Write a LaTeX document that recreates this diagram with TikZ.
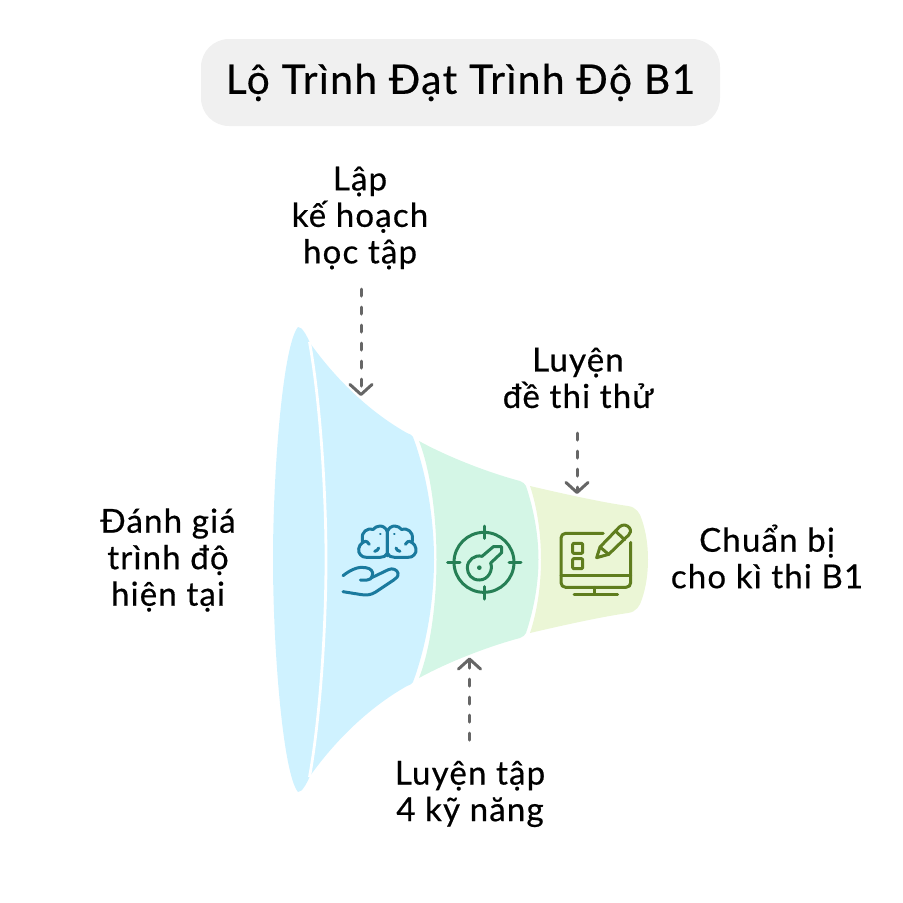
\documentclass[tikz,border=0pt]{standalone}
\usepackage{fontspec}
\setmainfont[LetterSpace=3.6,RawFeature={embolden=0.5}]{Lato}
\usetikzlibrary{arrows.meta}
\definecolor{bluefill}{HTML}{CFF2FF}
\definecolor{greenfill}{HTML}{D4F6E6}
\definecolor{yellowfill}{HTML}{EBF6D6}
\definecolor{pillfill}{HTML}{F0F0F0}
\definecolor{arrowgray}{HTML}{666666}
\definecolor{brainc}{HTML}{1A7A9E}
\definecolor{targetc}{HTML}{267F55}
\definecolor{monitorc}{HTML}{5F7D1E}
\tikzset{
  lbl/.style={align=center,font=\fontsize{33}{36.5}\selectfont,text=black,inner sep=0pt},
  flow/.style={draw=arrowgray,line width=3pt,line cap=round,dash pattern=on 7pt off 11pt,
    -{Straight Barb[length=10pt,width=22pt,line width=3pt,round]}},
  icon/.style={line width=3pt,line cap=round,line join=round,fill=none},
}
\begin{document}
\begin{tikzpicture}[x=1pt,y=-1pt]
\useasboundingbox (0,0) rectangle (903,903);
% title
\node[fill=pillfill,rounded corners=28pt,minimum width=519pt,minimum height=87pt,inner sep=0pt,
  font=\fontsize{40.7}{44}\selectfont] (title) at (460.5,82.5) {Lộ Trình Đạt Trình Độ B1};
% funnel
\fill[yellowfill] (530,486) .. controls (560,493) and (600,502) .. (628,506)
  .. controls (636,507) and (640,513) .. (642,520) .. controls (646,532) and (648,545) .. (648,559.5)
  .. controls (648,574) and (646,587) .. (642,599) .. controls (640,606) and (636,612) .. (628,613)
  .. controls (600,617) and (560,626) .. (530,633)
  .. controls (537,612) and (541,586) .. (541,559.5) .. controls (541,533) and (537,507) .. (530,486) -- cycle;
\fill[greenfill] (419,441) .. controls (450,458) and (490,473) .. (520,481)
  .. controls (523,482) and (525,484) .. (526,486) .. controls (533,507) and (538.5,533) .. (538.5,559.5)
  .. controls (538.5,586) and (533,612) .. (526,633) .. controls (525,635) and (523,637) .. (520,638)
  .. controls (490,646) and (450,661) .. (419,678)
  .. controls (430,650) and (436.5,605) .. (436.5,559.5)
  .. controls (436.5,514) and (430,469) .. (419,441) -- cycle;
\fill[bluefill] (298,327) .. controls (283,345) and (273,470) .. (273,559.5)
  .. controls (273,649) and (283,774) .. (298,792)
  .. controls (302,792) and (306,785) .. (310,776)
  .. controls (340,734) and (375,704) .. (407,686)
  .. controls (410,685) and (412,684) .. (413,682)
  .. controls (425,650) and (434,605) .. (434,559.5)
  .. controls (434,514) and (425,469) .. (413,437)
  .. controls (412,435) and (410,434) .. (407,433)
  .. controls (375,415) and (340,385) .. (310,343)
  .. controls (306,334) and (302,327) .. (298,327) -- cycle;
\draw[white,line width=2.8pt] (309.5,342) .. controls (320,400) and (326,490) .. (326,559.5)
  .. controls (326,629) and (320,719) .. (309.5,777);
% labels
\node[lbl] (plan) at (360,218) {Lập\\kế hoạch\\học tập};
\node[lbl] (mock) at (578,378) {Luyện\\đề thi thử};
\node[lbl] (skills) at (470,794) {Luyện tập\\4 kỹ năng};
\node[lbl] (assess) at (168,560) {Đánh giá\\trình độ\\hiện tại};
\node[lbl] (ready) at (767,556.5) {Chuẩn bị\\cho kì thi B1};
% connectors
\coordinate (planS) at (361,289);
\coordinate (planT) at (361,396);
\coordinate (mockS) at (577,433);
\coordinate (mockT) at (577,494);
\coordinate (skillsS) at (469.5,740);
\coordinate (skillsT) at (469.5,657.5);
\draw[flow] (planS) -- (planT);
\draw[flow] (mockS) -- (mockT);
\draw[flow] (skillsS) -- (skillsT);
% brain + hand icon
\begin{scope}[shift={(335,515)},scale=1/3,icon,draw=brainc]
  \foreach \m in {1,-1}{
  \begin{scope}[xshift=157pt,xscale=\m]
    \draw (0,122) -- (0,50) .. controls (-4,38) and (-14,33) .. (-22,33)
      .. controls (-32,33) and (-38,38) .. (-42,43) .. controls (-60,38) and (-78,50) .. (-75,72)
      .. controls (-76,76) and (-75,80) .. (-73,82) .. controls (-88,90) and (-90,112) .. (-80,120)
      .. controls (-76,125) and (-70,127) .. (-62,127) -- (-22,127) .. controls (-12,127) and (-4,124) .. (0,115);
    \draw (-73,82) .. controls (-64,76) and (-58,80) .. (-54,88);
    \draw (-38,109) .. controls (-32,108) and (-27,104) .. (-26,99);
    \draw[line width=2pt] (-22,57) -- (-20,57);
  \end{scope}}
  \draw (24,182) .. controls (45,166) and (62,158) .. (78,157) -- (92,158)
    .. controls (108,160) and (116,170) .. (112,182) .. controls (110,190) and (105,195) .. (96,195) -- (76,195);
  \draw (110,188) -- (160,164) .. controls (172,158) and (186,164) .. (189,174)
    .. controls (191,184) and (184,190) .. (176,195) -- (122,231)
    .. controls (108,240) and (96,241) .. (80,239) -- (24,230);
\end{scope}
% target + key icon
\begin{scope}[shift={(440,515)},scale=1/3,icon,draw=targetc]
  \draw (132,142) circle[radius=90];
  \draw (132,33) -- (132,70);
  \draw (132,215) -- (132,252);
  \draw (23,142) -- (60,142);
  \draw (207,142) -- (243,142);
  \draw (126,124) -- (160,95) -- (185,95) -- (185,113) -- (152,144)
    .. controls (160,165) and (145,195) .. (118,195)
    .. controls (95,195) and (82,178) .. (82,158)
    .. controls (82,135) and (105,118) .. (126,124) -- cycle;
  \fill[targetc] (118,158) circle[radius=7];
\end{scope}
% monitor + pencil icon
\begin{scope}[shift={(550,515)},scale=1/3,icon,draw=monitorc]
  \draw (160,55) -- (47,55) .. controls (39,55) and (33,61) .. (33,69) -- (33,203)
    .. controls (33,211) and (39,217) .. (47,217) -- (228,217)
    .. controls (236,217) and (242,211) .. (242,203) -- (242,82);
  \draw (33,182) -- (242,182);
  \draw (132,217) -- (132,237);
  \draw (72,237) -- (203,237);
  \draw[rounded corners=1pt] (68,85) rectangle (98,115);
  \draw[rounded corners=1pt] (68,131) rectangle (98,161);
  \draw (140,128) -- (150,96) -- (208,36) .. controls (218,26) and (232,30) .. (238,38)
    .. controls (244,47) and (242,54) .. (236,60) -- (176,118) -- cycle;
  \draw (150,96) -- (176,118);
  \draw (196,48) -- (224,74);
\end{scope}
\end{tikzpicture}
\end{document}
